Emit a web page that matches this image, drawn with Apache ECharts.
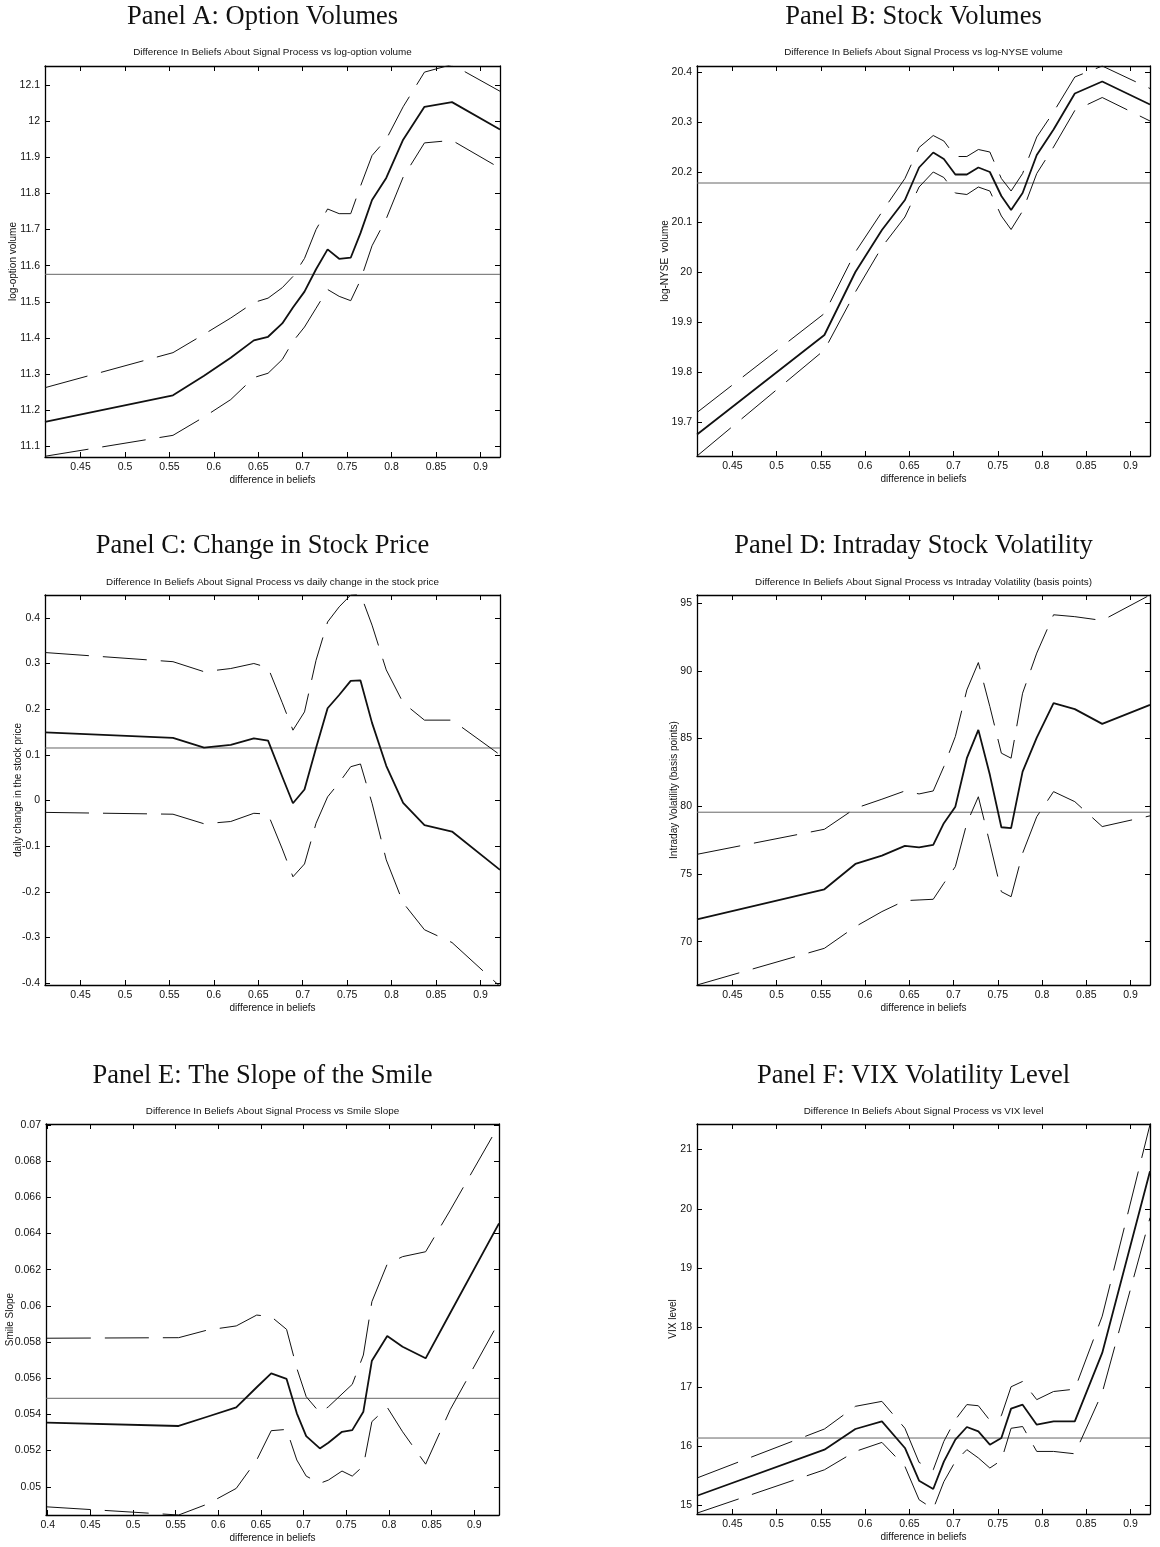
<!DOCTYPE html>
<html>
<head>
<meta charset="utf-8">
<title>Difference in beliefs panels</title>
<script src="https://cdn.jsdelivr.net/npm/echarts@6/dist/echarts.min.js"></script>
<style>
  html, body { margin: 0; padding: 0; background: #fff; }
  #main { width: 1160px; height: 1547px; }
</style>
</head>
<body>
<div id="main"></div>
<script>
// difference in beliefs (x values)
var beliefs = [0.41, 0.554, 0.589, 0.619, 0.645, 0.661, 0.677, 0.689, 0.702, 0.715,
               0.728, 0.741, 0.754, 0.765, 0.778, 0.794, 0.813, 0.837, 0.868, 0.922];
var beliefsSmile = [0.399, 0.5535, 0.587, 0.621, 0.645, 0.662, 0.68, 0.692, 0.703, 0.719,
                    0.729, 0.745, 0.757, 0.77, 0.78, 0.798, 0.816, 0.843, 0.872, 0.929];

// Panel A: log-option volume
var optVol   = [11.167, 11.241, 11.295, 11.345, 11.393, 11.403, 11.44, 11.484, 11.528, 11.59,
                11.645, 11.619, 11.622, 11.69, 11.782, 11.843, 11.949, 12.04, 12.053, 11.977];
var optVolHi = [11.262, 11.359, 11.41, 11.455, 11.498, 11.51, 11.539, 11.57, 11.62, 11.70,
                11.757, 11.744, 11.744, 11.82, 11.905, 11.95, 12.04, 12.136, 12.157, 12.083];
var optVolLo = [11.072, 11.13, 11.181, 11.229, 11.29, 11.302, 11.34, 11.39, 11.43, 11.482,
                11.534, 11.515, 11.503, 11.56, 11.655, 11.73, 11.845, 11.94, 11.947, 11.87];
var optVolMean = 11.576;

// Panel B: log-NYSE volume
var nyseVol   = [19.675, 19.874, 20.0, 20.084, 20.144, 20.209, 20.239, 20.226, 20.195, 20.195,
                 20.209, 20.2, 20.152, 20.124, 20.158, 20.234, 20.285, 20.357, 20.381, 20.335];
var nyseVolHi = [19.719, 19.917, 20.04, 20.12, 20.187, 20.249, 20.273, 20.262, 20.231, 20.231,
                 20.245, 20.24, 20.187, 20.162, 20.197, 20.27, 20.32, 20.39, 20.412, 20.367];
var nyseVolLo = [19.632, 19.844, 19.96, 20.05, 20.11, 20.17, 20.2, 20.189, 20.158, 20.155,
                 20.17, 20.162, 20.112, 20.085, 20.122, 20.197, 20.25, 20.323, 20.349, 20.302];
var nyseVolMean = 20.178;

// Panel C: daily change in the stock price
var priceChg   = [0.149, 0.137, 0.116, 0.122, 0.136, 0.131, 0.052, -0.006, 0.024, 0.115,
                  0.202, 0.231, 0.262, 0.263, 0.17, 0.076, -0.005, -0.054, -0.068, -0.152];
var priceChgHi = [0.324, 0.304, 0.282, 0.289, 0.3, 0.291, 0.214, 0.154, 0.194, 0.307,
                  0.391, 0.424, 0.45, 0.452, 0.384, 0.286, 0.214, 0.176, 0.176, 0.1];
var priceChgLo = [-0.026, -0.03, -0.051, -0.046, -0.028, -0.03, -0.106, -0.167, -0.139, -0.05,
                  0.008, 0.039, 0.074, 0.08, -0.006, -0.13, -0.224, -0.283, -0.311, -0.407];
var priceChgMean = 0.115;

// Panel D: intraday volatility (basis points)
var intraVol   = [71.65, 73.87, 75.74, 76.35, 77.07, 76.97, 77.14, 78.75, 79.97, 83.55,
                  85.64, 82.32, 78.45, 78.38, 82.56, 85.07, 87.61, 87.17, 86.08, 87.49];
var intraVolHi = [76.45, 78.3, 79.85, 80.52, 81.13, 80.91, 81.13, 82.93, 85.15, 88.59,
                  90.61, 87.36, 83.92, 83.55, 88.35, 91.31, 94.14, 94.0, 93.72, 95.6];
var intraVolLo = [66.8, 69.51, 71.11, 72.22, 73.03, 73.08, 73.13, 74.31, 75.54, 78.75,
                  80.7, 77.27, 73.69, 73.32, 76.53, 79.23, 81.08, 80.34, 78.5, 79.29];
var intraVolMean = 79.56;

// Panel E: smile slope
var smile   = [0.05354, 0.05336, 0.05387, 0.05439, 0.0555, 0.05627, 0.05596, 0.05406, 0.0528, 0.05212,
               0.05243, 0.05304, 0.05313, 0.05415, 0.05697, 0.05833, 0.05774, 0.0571, 0.05962, 0.06456];
var smileHi = [0.05821, 0.05824, 0.05866, 0.05889, 0.05949, 0.0594, 0.0587, 0.05655, 0.05498, 0.05409,
               0.05442, 0.05513, 0.05566, 0.05728, 0.06023, 0.06231, 0.06272, 0.06299, 0.0653, 0.07];
var smileLo = [0.04889, 0.04844, 0.04904, 0.04991, 0.05148, 0.0531, 0.05317, 0.05148, 0.05059, 0.05019,
               0.05037, 0.05087, 0.05059, 0.05115, 0.0536, 0.05439, 0.05304, 0.05125, 0.05428, 0.05912];
var smileMean = 0.05489;

// Panel F: VIX level
var vix   = [15.163, 15.94, 16.288, 16.417, 15.968, 15.416, 15.276, 15.737, 16.108, 16.322,
             16.248, 16.024, 16.136, 16.631, 16.698, 16.361, 16.417, 16.417, 17.57, 20.634];
var vixHi = [15.462, 16.288, 16.67, 16.754, 16.3, 15.725, 15.6, 16.08, 16.445, 16.7,
             16.68, 16.434, 16.513, 17.0, 17.09, 16.783, 16.92, 16.96, 18.19, 21.42];
var vixLo = [14.87, 15.6, 15.91, 16.062, 15.657, 15.096, 14.94, 15.4, 15.742, 15.94,
             15.8, 15.63, 15.76, 16.3, 16.33, 15.91, 15.91, 15.87, 16.9, 19.85];
var vixMean = 16.136;

// tick labels
var xTicks      = [0.45, 0.5, 0.55, 0.6, 0.65, 0.7, 0.75, 0.8, 0.85, 0.9];
var xTicksSmile = [0.4, 0.45, 0.5, 0.55, 0.6, 0.65, 0.7, 0.75, 0.8, 0.85, 0.9];
var optTicks   = [11.1, 11.2, 11.3, 11.4, 11.5, 11.6, 11.7, 11.8, 11.9, 12, 12.1];
var nyseTicks  = [19.7, 19.8, 19.9, 20, 20.1, 20.2, 20.3, 20.4];
var priceTicks = [-0.4, -0.3, -0.2, -0.1, 0, 0.1, 0.2, 0.3, 0.4];
var intraTicks = [70, 75, 80, 85, 90, 95];
var smileTicks = [0.05, 0.052, 0.054, 0.056, 0.058, 0.06, 0.062, 0.064, 0.066, 0.068, 0.07];
var vixTicks   = [15, 16, 17, 18, 19, 20, 21];

var panels = [
  {head: 'Panel A: Option Volumes', sub: 'Difference In Beliefs About Signal Process vs log-option volume',
   yName: 'log-option volume', x: beliefs, mid: optVol, hi: optVolHi, lo: optVolLo, mean: optVolMean,
   xTicks: xTicks, yTicks: optTicks, xRange: [0.41, 0.922], yRange: [11.07, 12.153]},
  {head: 'Panel B: Stock Volumes', sub: 'Difference In Beliefs About Signal Process vs log-NYSE volume',
   yName: 'log-NYSE  volume', x: beliefs, mid: nyseVol, hi: nyseVolHi, lo: nyseVolLo, mean: nyseVolMean,
   xTicks: xTicks, yTicks: nyseTicks, xRange: [0.41, 0.922], yRange: [19.632, 20.412]},
  {head: 'Panel C: Change in Stock Price', sub: 'Difference In Beliefs About Signal Process vs daily change in the stock price',
   yName: 'daily change in the stock price', x: beliefs, mid: priceChg, hi: priceChgHi, lo: priceChgLo, mean: priceChgMean,
   xTicks: xTicks, yTicks: priceTicks, xRange: [0.41, 0.922], yRange: [-0.404, 0.45]},
  {head: 'Panel D: Intraday Stock Volatility', sub: 'Difference In Beliefs About Signal Process vs Intraday Volatility (basis points)',
   yName: 'Intraday Volatility (basis points)', x: beliefs, mid: intraVol, hi: intraVolHi, lo: intraVolLo, mean: intraVolMean,
   xTicks: xTicks, yTicks: intraTicks, xRange: [0.41, 0.922], yRange: [66.8, 95.6]},
  {head: 'Panel E: The Slope of the Smile', sub: 'Difference In Beliefs About Signal Process vs Smile Slope',
   yName: 'Smile Slope', x: beliefsSmile, mid: smile, hi: smileHi, lo: smileLo, mean: smileMean,
   xTicks: xTicksSmile, yTicks: smileTicks, xRange: [0.398, 0.929], yRange: [0.04844, 0.07005]},
  {head: 'Panel F: VIX Volatility Level', sub: 'Difference In Beliefs About Signal Process vs VIX level',
   yName: 'VIX level', x: beliefs, mid: vix, hi: vixHi, lo: vixLo, mean: vixMean,
   xTicks: xTicks, yTicks: vixTicks, xRange: [0.41, 0.922], yRange: [14.855, 21.43]}
];

// plot boxes [left, top, width, height] and text placement
var boxes = [[45, 66, 455, 391], [697, 66, 453, 390],
             [45, 595, 455, 390], [697, 595, 453, 390],
             [46, 1124, 453, 391], [697, 1124, 453, 390]];
var yNameGaps = [27, 27, 22, 18, 31, 19];
var headY = [17, 17, 546, 546, 1076, 1076];
var subY = [52, 52, 582, 582, 1111, 1111];

function pairs(xs, ys) {
  var out = [];
  for (var i = 0; i < xs.length; i++) out.push([xs[i], ys[i]]);
  return out;
}

var grids = [], xAxes = [], yAxes = [], series = [], graphics = [];
var frame = {show: true, onZero: false, lineStyle: {color: '#000', width: 1.3}};
var labelStyle = {fontFamily: 'Liberation Sans', fontSize: 10.5, color: '#111'};
var nameStyle = {fontFamily: 'Liberation Sans', fontSize: 10, color: '#111'};

panels.forEach(function (p, i) {
  var b = boxes[i];
  grids.push({left: b[0], top: b[1], width: b[2], height: b[3], containLabel: false});

  ['bottom', 'top'].forEach(function (pos, k) {
    xAxes.push({
      type: 'value', gridIndex: i, position: pos, min: p.xRange[0], max: p.xRange[1],
      axisLine: frame, splitLine: {show: false},
      axisTick: {show: true, inside: true, length: 5, customValues: p.xTicks, lineStyle: {color: '#000'}},
      axisLabel: {show: k === 0, customValues: p.xTicks, margin: 5, fontFamily: labelStyle.fontFamily,
                  fontSize: labelStyle.fontSize, color: labelStyle.color},
      name: k === 0 ? 'difference in beliefs' : '', nameLocation: 'middle', nameGap: 18,
      nameMoveOverlap: false, nameTextStyle: nameStyle
    });
  });
  ['left', 'right'].forEach(function (pos, k) {
    yAxes.push({
      type: 'value', gridIndex: i, position: pos, min: p.yRange[0], max: p.yRange[1],
      axisLine: frame, splitLine: {show: false},
      axisTick: {show: true, inside: true, length: 5, customValues: p.yTicks, lineStyle: {color: '#000'}},
      axisLabel: {show: k === 0, customValues: p.yTicks, margin: 5, fontFamily: labelStyle.fontFamily,
                  fontSize: labelStyle.fontSize, color: labelStyle.color},
      name: k === 0 ? p.yName : '', nameLocation: 'middle', nameGap: yNameGaps[i],
      nameMoveOverlap: false, nameTextStyle: nameStyle
    });
  });

  var xi = i * 2, yi = i * 2;
  // sample mean reference line
  series.push({
    type: 'line', xAxisIndex: xi, yAxisIndex: yi, symbol: 'none', silent: true,
    data: [[p.xRange[0], p.mean], [p.xRange[1], p.mean]],
    lineStyle: {color: '#666', width: 1}
  });
  // confidence bands
  [p.hi, p.lo].forEach(function (band) {
    series.push({
      type: 'line', xAxisIndex: xi, yAxisIndex: yi, symbol: 'none', silent: true,
      data: pairs(p.x, band),
      lineStyle: {color: '#111', width: 1, type: [44, 14]}
    });
  });
  series.push({
    type: 'line', xAxisIndex: xi, yAxisIndex: yi, symbol: 'none', silent: true,
    data: pairs(p.x, p.mid),
    lineStyle: {color: '#111', width: 1.8}
  });

  var cx = b[0] + b[2] / 2;
  graphics.push({
    type: 'text', x: cx - 10, y: headY[i],
    style: {text: p.head, fontFamily: 'Liberation Serif', fontSize: 26.5, fill: '#111',
            align: 'center', verticalAlign: 'middle'}
  });
  graphics.push({
    type: 'text', x: cx, y: subY[i],
    style: {text: p.sub, fontFamily: 'Liberation Sans', fontSize: 9.9, fill: '#111',
            align: 'center', verticalAlign: 'middle'}
  });
});

var myChart = echarts.init(document.getElementById('main'));
myChart.setOption({
  animation: false,
  backgroundColor: '#fff',
  grid: grids,
  xAxis: xAxes,
  yAxis: yAxes,
  series: series,
  graphic: graphics
});
</script>
</body>
</html>
